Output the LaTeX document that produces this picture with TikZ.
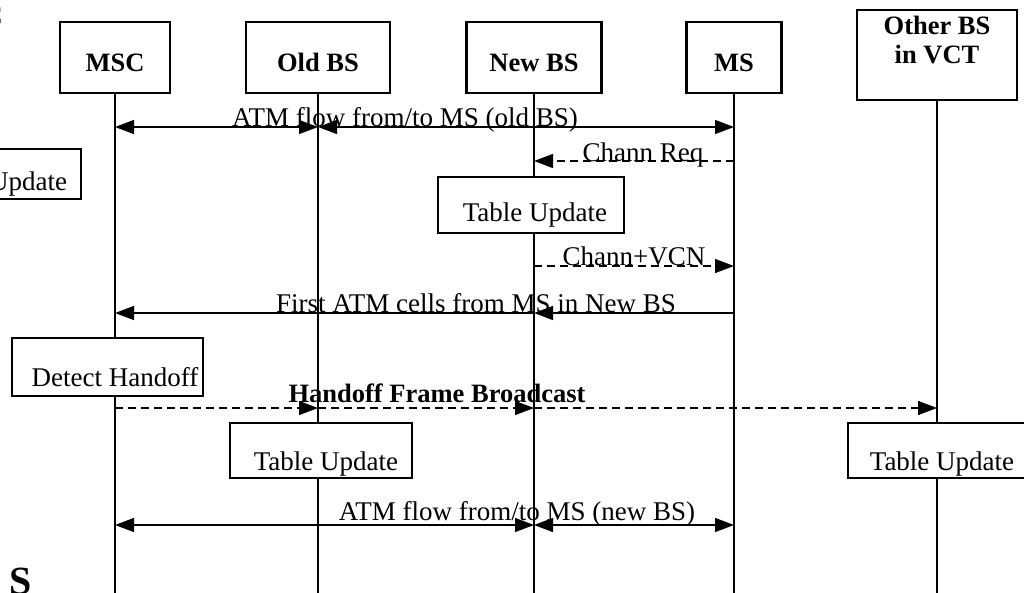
\documentclass[tikz,border=0pt]{standalone}
\usepackage{fontspec}
\setmainfont{Liberation Serif}
\usetikzlibrary{arrows.meta}
\begin{document}
\begin{tikzpicture}[x=1pt,y=-1pt,
  every node/.style={font=\fontsize{27}{29}\selectfont},
  hdr/.style={draw, fill=white, line width=2.8pt, inner sep=0pt},
  act/.style={draw, fill=white, line width=2.8pt, inner sep=0pt},
  txt/.style={anchor=base, inner sep=0pt},
  ttl/.style={anchor=base, inner sep=0pt, font=\fontsize{26.5}{29}\selectfont\bfseries},
  life/.style={line width=1.3pt},
  tip/.tip={Triangle[length=19pt,width=14pt]},
  msg/.style={line width=1.3pt, -tip},
  msgd/.style={msg, dash pattern=on 8pt off 5pt},
  both/.style={line width=1.3pt, tip-tip},
]
\useasboundingbox (0,0) rectangle (1024,592);
\clip (0,0) rectangle (1024,592);

% participant heads
\node[hdr, minimum width=110pt, minimum height=71pt] (msc) at (115,57.5) {};
\node[hdr, minimum width=144pt, minimum height=71pt] (old) at (318,57.5) {};
\node[hdr, minimum width=135pt, minimum height=71pt] (new) at (534,57.5) {};
\node[hdr, minimum width=95pt,  minimum height=71pt] (ms)  at (734,57.5) {};
\node[hdr, minimum width=160pt, minimum height=90pt] (oth) at (937,55) {};

% lifelines
\coordinate (eMSC) at (115,600);
\coordinate (eOld) at (318,600);
\coordinate (eNew) at (534,600);
\coordinate (eMS)  at (734,600);
\coordinate (eOth) at (937,600);
\draw[life] (msc.south) -- (eMSC);
\draw[life] (old.south) -- (eOld);
\draw[life] (new.south) -- (eNew);
\draw[life] (ms.south)  -- (eMS);
\draw[life] (oth.south) -- (eOth);

\node[ttl] (mscT) at (115,71) {MSC};
\node[ttl] (oldT) at (318,71) {Old BS};
\node[ttl] (newT) at (534,71) {New BS};
\node[ttl] (msT)  at (734,71) {MS};
\node[ttl] (othT1) at (937,34) {Other BS};
\node[ttl] (othT2) at (937,63) {in VCT};

% message anchor points on the lifelines
\coordinate (a1) at (115,127); \coordinate (b1) at (318,127); \coordinate (c1) at (734,127);
\coordinate (a2) at (734,161); \coordinate (b2) at (534,161);
\coordinate (a3) at (534,266); \coordinate (b3) at (734,266);
\coordinate (a4) at (734,313); \coordinate (b4) at (534,313); \coordinate (c4) at (115,313);
\coordinate (a5) at (115,408); \coordinate (b5) at (318,408); \coordinate (c5) at (534,408); \coordinate (d5) at (937,408);
\coordinate (a6) at (115,525); \coordinate (b6) at (534,525); \coordinate (c6) at (734,525);

% messages
\draw[both] (a1) -- (b1);
\draw[both] (b1) -- (c1);
\node[txt] (l1) at (405,126) {ATM flow from/to MS (old BS)};

\draw[msgd] (a2) -- (b2);
\node[txt] (l2) at (643,161) {Chann Req};

\draw[msgd] (a3) -- (b3);
\node[txt] (l3) at (634,265) {Chann+VCN};

\draw[msg] (a4) -- (b4);
\draw[msg] (b4) -- (c4);
\node[txt] (l4) at (476,312) {First ATM cells from MS in New BS};

\draw[msgd] (a5) -- (b5);
\draw[msgd] (b5) -- (c5);
\draw[msgd] (c5) -- (d5);
\node[ttl] (l5) at (437,402) {Handoff Frame Broadcast};

\draw[both] (a6) -- (b6);
\draw[both] (b6) -- (c6);
\node[txt] (l6) at (517,520) {ATM flow from/to MS (new BS)};

% local actions
\node[act, minimum width=186pt, minimum height=50pt] (tu0) at (-12,174) {};
\node[txt] (tu0T) at (-5,190) {Table Update};
\node[act, minimum width=186pt, minimum height=56pt] (tu1) at (531,205) {};
\node[txt] (tu1T) at (535,221) {Table Update};
\node[act, minimum width=191pt, minimum height=58pt] (dh) at (107.5,367) {};
\node[txt] (dhT) at (115,386) {Detect Handoff};
\node[act, minimum width=182pt, minimum height=55pt] (tu2) at (321,450.5) {};
\node[txt] (tu2T) at (326,470) {Table Update};
\node[act, minimum width=186pt, minimum height=55pt] (tu3) at (941,450.5) {};
\node[txt] (tu3T) at (942,470) {Table Update};

% edge letters
\node[anchor=base east, inner sep=0pt, font=\fontsize{26.5}{29}\selectfont\bfseries] (eC) at (3,24) {C};
\node[anchor=base west, inner sep=0pt, font=\fontsize{40}{42}\selectfont\bfseries] (eS) at (9,594) {S};
\end{tikzpicture}
\end{document}
